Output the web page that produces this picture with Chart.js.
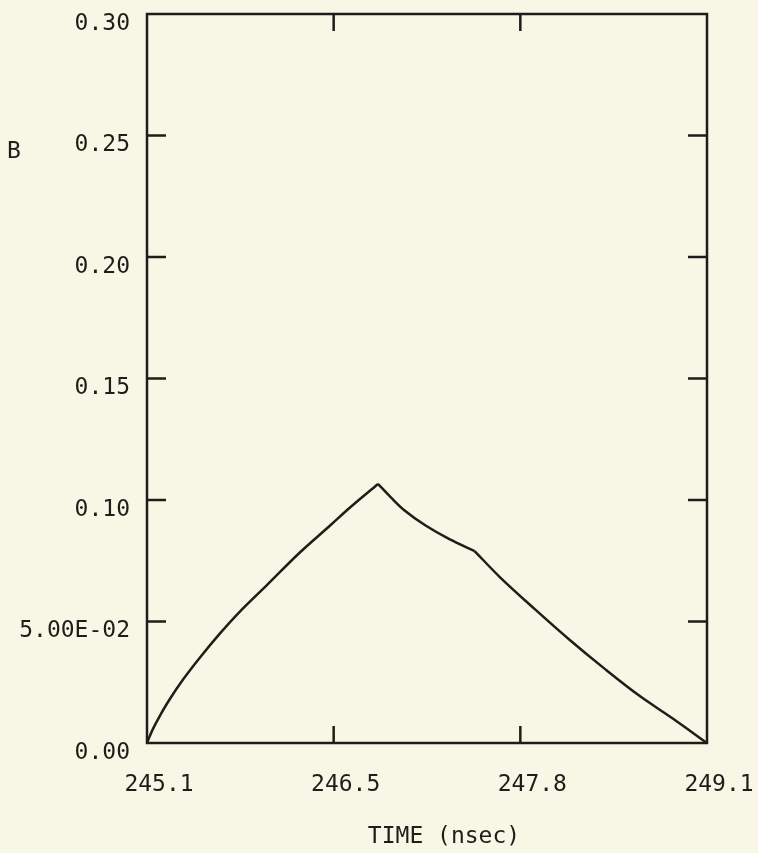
<!DOCTYPE html>
<html>
<head>
<meta charset="utf-8">
<script src="https://cdn.jsdelivr.net/npm/chart.js@4/dist/chart.umd.min.js"></script>
<style>
  html, body { margin: 0; padding: 0; background: #f8f6e5; }
  #wrap { width: 758px; height: 853px; position: relative; }
</style>
</head>
<body>
<div id="wrap"><canvas id="b-chart"></canvas></div>
<script>
// data
const timeNs = [245.10, 245.14, 245.19, 245.26, 245.36, 245.48, 245.62, 245.76, 245.96, 246.19,
  246.41, 246.55, 246.75, 246.84, 246.94, 247.09, 247.26, 247.44, 247.62, 247.87,
  248.12, 248.37, 248.62, 248.85, 249.10];
const bValues = [0.0000, 0.0055, 0.0110, 0.0178, 0.0263, 0.0353, 0.0450, 0.0539, 0.0652, 0.0783,
  0.0896, 0.0969, 0.1066, 0.1012, 0.0957, 0.0895, 0.0839, 0.0790, 0.0683, 0.0551,
  0.0424, 0.0305, 0.0193, 0.0103, 0.0000];
// the curve has two sharp corners: the peak and the knee after it
const peakIdx = 12;
const kneeIdx = 17;

const xMin = 245.1;
const xMax = 249.1;
const xTickLabels = ['245.1', '246.5', '247.8', '249.1'];
const yTickValues = [0, 0.05, 0.10, 0.15, 0.20, 0.25, 0.30];

const ink = '#1f1c1a';
const monoFont = { family: 'DejaVu Sans Mono', size: 23 };

const points = timeNs.map((t, i) => ({ x: t, y: bValues[i] }));
const pieces = [
  points.slice(0, peakIdx + 1),
  points.slice(peakIdx, kneeIdx + 1),
  points.slice(kneeIdx)
];

// frame, inward tick marks and free texts
const framePlugin = {
  id: 'frame',
  afterDraw(chart) {
    const c = chart.ctx;
    const a = chart.chartArea;
    const xs = chart.scales.x;
    const ys = chart.scales.y;
    c.save();
    c.strokeStyle = ink;
    c.lineWidth = 2.5;
    c.strokeRect(a.left, a.top, a.right - a.left, a.bottom - a.top);
    c.beginPath();
    ys.ticks.forEach((t, i) => {
      if (i === 0 || i === ys.ticks.length - 1) return;
      const y = ys.getPixelForValue(t.value);
      c.moveTo(a.left, y); c.lineTo(a.left + 19, y);
      c.moveTo(a.right, y); c.lineTo(a.right - 19, y);
    });
    xs.ticks.forEach((t, i) => {
      if (i === 0 || i === xs.ticks.length - 1) return;
      const x = xs.getPixelForValue(t.value);
      c.moveTo(x, a.bottom); c.lineTo(x, a.bottom - 17);
      c.moveTo(x, a.top); c.lineTo(x, a.top + 17);
    });
    c.stroke();

    c.fillStyle = ink;
    c.font = '23px "DejaVu Sans Mono"';
    c.textAlign = 'center';
    c.textBaseline = 'middle';
    c.fillText('B', 14, 152);
    c.fillText('TIME (nsec)', 444, 837);
    c.restore();
  }
};

new Chart(document.getElementById('b-chart'), {
  type: 'line',
  data: {
    datasets: pieces.map(p => ({
      label: 'B',
      data: p,
      borderColor: ink,
      borderWidth: 2.5,
      pointRadius: 0,
      tension: 0.35,
      fill: false
    }))
  },
  options: {
    responsive: true,
    maintainAspectRatio: false,
    animation: false,
    layout: { padding: { top: 14, right: 51, left: 0, bottom: 0 } },
    plugins: {
      legend: { display: false },
      tooltip: { enabled: false }
    },
    scales: {
      x: {
        type: 'linear',
        min: xMin,
        max: xMax,
        afterBuildTicks: (scale) => {
          scale.ticks = xTickLabels.map((s, i) => ({ value: xMin + i * (xMax - xMin) / (xTickLabels.length - 1) }));
        },
        afterFit: (scale) => {
          scale.height = 110;
          scale.paddingLeft = 0;
          scale.paddingRight = 0;
        },
        grid: { display: false, drawTicks: false },
        border: { display: false },
        ticks: {
          font: monoFont,
          color: ink,
          padding: 28,
          labelOffset: 12,
          maxRotation: 0,
          autoSkip: false,
          callback: (v, i) => xTickLabels[i]
        }
      },
      y: {
        type: 'linear',
        min: 0,
        max: 0.30,
        afterBuildTicks: (scale) => {
          scale.ticks = yTickValues.map(v => ({ value: v }));
        },
        afterFit: (scale) => {
          scale.width = 147;
          scale.paddingTop = 0;
          scale.paddingBottom = 0;
        },
        grid: { display: false, drawTicks: false },
        border: { display: false },
        ticks: {
          font: monoFont,
          color: ink,
          padding: 17,
          labelOffset: 10,
          autoSkip: false,
          callback: (v) => Math.abs(v - 0.05) < 1e-9 ? '5.00E-02' : v.toFixed(2)
        }
      }
    }
  },
  plugins: [framePlugin]
});
</script>
</body>
</html>
